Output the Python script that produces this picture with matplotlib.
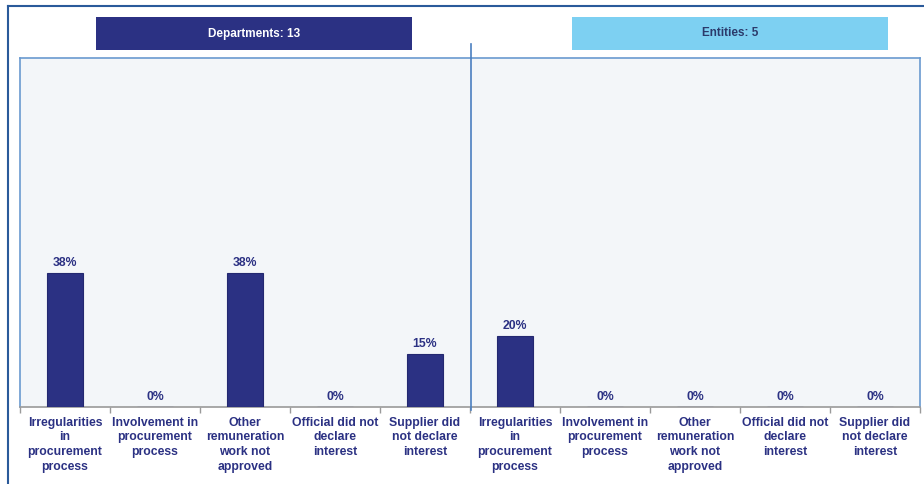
import numpy as np
import matplotlib.pyplot as plt
from matplotlib.patches import Rectangle
from matplotlib.lines import Line2D

plt.rcParams['font.family'] = ['Liberation Sans', 'DejaVu Sans']

categories = ['Irregularities\nin\nprocurement\nprocess',
              'Involvement in\nprocurement\nprocess',
              'Other\nremuneration\nwork not\napproved',
              'Official did not\ndeclare\ninterest',
              'Supplier did\nnot declare\ninterest']
departments = [38, 0, 38, 0, 15]
entities = [20, 0, 0, 0, 0]
group_titles = ['Departments: 13', 'Entities: 5']

navy = '#2b3183'
W, H = 924, 484
fig = plt.figure(figsize=(W / 100, H / 100), dpi=100)

def fx(px):
    return px / W

def fy(py):
    return 1 - py / H

# plot area
ax = fig.add_axes([fx(20), fy(407), fx(900), fy(58) - fy(407)])
ax.set_facecolor('#f3f6f9')

values = departments + entities
x = np.arange(len(values))
ax.bar(x, values, width=0.41, color=navy, edgecolor='#232870', linewidth=0.8, zorder=3)
for xi, v in zip(x, values):
    ax.annotate(f'{v}%', (xi, v), xytext=(0, 3), textcoords='offset points',
                ha='center', va='bottom', fontsize=8.8, fontweight='bold', color=navy)

ax.set_xlim(-0.5, len(values) - 0.5)
ax.set_ylim(0, 99)
ax.set_yticks([])
ax.set_xticks(x)
ax.set_xticklabels(categories * 2, fontsize=8.8, fontweight='bold', color=navy,
                   linespacing=1.3)
ax.tick_params(axis='x', which='major', length=0, pad=7)
ax.set_xticks(np.arange(-0.5, len(values)), minor=True)
ax.tick_params(axis='x', which='minor', length=4, color='#9a9a9a', width=1)

for side in ['top', 'left', 'right']:
    ax.spines[side].set_color('#6a9ad0')
    ax.spines[side].set_linewidth(1.2)
ax.spines['bottom'].set_color('#9a9a9a')
ax.spines['bottom'].set_linewidth(1.2)

# divider between the two groups
fig.add_artist(Line2D([fx(471), fx(471)], [fy(44), fy(410)], color='#4a7fc0', lw=1.2))

# outer frame
fig.add_artist(Line2D([fx(8), 1], [fy(6), fy(6)], color='#2a5a9a', lw=1.5))
fig.add_artist(Line2D([fx(8), fx(8)], [fy(6), 0], color='#2a5a9a', lw=1.5))

# group headers
headers = [(96, 412, navy, 'white'), (572, 888, '#7dd0f2', '#2b3a6b')]
for (x0, x1, fc, tc), title in zip(headers, group_titles):
    fig.add_artist(Rectangle((fx(x0), fy(50)), fx(x1 - x0), fy(17) - fy(50),
                             facecolor=fc, edgecolor='none'))
    fig.text(fx((x0 + x1) / 2), fy(33.5), title, ha='center', va='center',
             fontsize=8.5, fontweight='bold', color=tc)

fig.savefig('out.png', dpi=100)
